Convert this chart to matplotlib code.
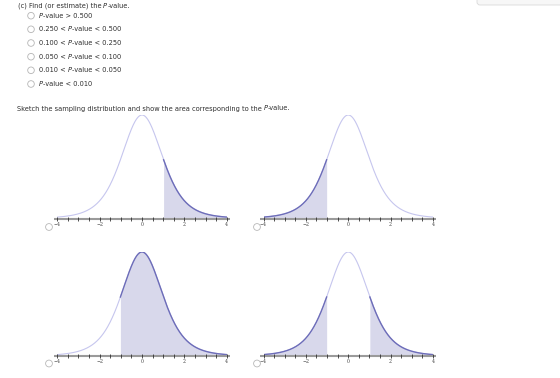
import numpy as np
import matplotlib
matplotlib.use("Agg")
import matplotlib.pyplot as plt
from matplotlib.patches import Circle, FancyBboxPatch
from math import gamma, sqrt, pi

# ---- data ----
title_text = "(c) Find (or estimate) the "
option_labels = [
    ("", "P", "-value > 0.500"),
    ("0.250 < ", "P", "-value < 0.500"),
    ("0.100 < ", "P", "-value < 0.250"),
    ("0.050 < ", "P", "-value < 0.100"),
    ("0.010 < ", "P", "-value < 0.050"),
    ("", "P", "-value < 0.010"),
]
sketch_text = "Sketch the sampling distribution and show the area corresponding to the "
tick_values = [-4, -2, 0, 2, 4]
tick_labels = ["\u22124", "\u22122", "0", "2", "4"]
minor_step = 0.5
t_df = 5
t_cutoff = 1.02
panel_shading = ["right", "left", "above_neg", "two_tailed"]

W, H = 560, 378
fig = plt.figure(figsize=(W / 100, H / 100), dpi=100)

def pdf(x):
    v = t_df
    c = gamma((v + 1) / 2) / (sqrt(v * pi) * gamma(v / 2))
    return c * (1 + x ** 2 / v) ** (-(v + 1) / 2)

# overlay axes in pixel coordinates
ov = fig.add_axes([0, 0, 1, 1])
ov.set_xlim(0, W)
ov.set_ylim(H, 0)
ov.axis("off")

txt_color = "#2e2e2e"
fs = 4.8

def rich(x, y, parts):
    # draw parts sequentially, P italic
    r = fig.canvas.get_renderer()
    cx = x
    for p in parts:
        if not p:
            continue
        style = "italic" if p == "P" else "normal"
        t = ov.text(cx, y, p, fontsize=fs, color=txt_color, va="center", ha="left",
                    family="DejaVu Sans", style=style)
        bb = t.get_window_extent(renderer=r)
        cx += bb.width * W / fig.bbox.width

rich(17.5, 5.8, [title_text, "P", "-value."])

opt_y = [15.7, 29.3, 43.0, 56.7, 70.3, 84.0]
for yy, parts in zip(opt_y, option_labels):
    ov.add_patch(Circle((31, yy), 3.3, fill=False, ec="#b5b5b5", lw=0.6))
    rich(39, yy, list(parts))

rich(17, 108.5, [sketch_text, "P", "-value."])

# top-right box
ov.add_patch(FancyBboxPatch((477, -12), 100, 17, boxstyle="round,pad=0,rounding_size=3",
                            fc="#f7f7f7", ec="#d9d9d9", lw=0.6))

# panels
light = "#c6c6ee"
dark = "#6d6db8"
fill = "#d8d8eb"
panels = [
    (57.3, 226.7, 218.5, 115.0),
    (263.5, 433.0, 218.5, 115.0),
    (57.3, 226.7, 356.0, 252.0),
    (263.5, 433.0, 356.0, 252.0),
]
radio_pos = [(49, 227), (257, 227), (49, 363.5), (257, 363.5)]

x = np.linspace(-4, 4, 801)
y = pdf(x)
for (xl, xr, yb, yt), shade, rp in zip(panels, panel_shading, radio_pos):
    ax = fig.add_axes([xl / W, 1 - yb / H, (xr - xl) / W, (yb - yt) / H])
    ax.set_xlim(-4, 4)
    ax.set_ylim(0, pdf(0))
    ax.axis("off")
    ax.patch.set_alpha(0)
    if shade == "right":
        masks = [x >= t_cutoff]
    elif shade == "left":
        masks = [x <= -t_cutoff]
    elif shade == "above_neg":
        masks = [x >= -t_cutoff]
    else:
        masks = [x <= -t_cutoff, x >= t_cutoff]
    ax.plot(x, y, color=light, lw=0.8, zorder=2)
    for m in masks:
        ax.fill_between(x[m], 0, y[m], color=fill, lw=0, zorder=1)
        ax.plot(x[m], y[m], color=dark, lw=1.0, zorder=3)
    # axis line
    ax.plot([-4.15, 4.15], [0, 0], color="#9a9a9a", lw=1.5, clip_on=False, zorder=4,
            solid_capstyle="butt")
    mt = np.arange(-4, 4 + 1e-9, minor_step)
    ax.plot(mt, np.zeros_like(mt), ls="none", marker="|", ms=2.8, mew=0.6,
            color="#333333", clip_on=False, zorder=5)
    for tv, tl in zip(tick_values, tick_labels):
        ax.annotate(tl, (tv, 0), xytext=(0, -4.3), textcoords="offset points",
                    ha="center", va="center", fontsize=3.4, color="#444444",
                    family="DejaVu Serif", annotation_clip=False)
    ov.add_patch(Circle(rp, 3.4, fill=False, ec="#b8b8b8", lw=0.6))

fig.savefig("out.png", dpi=100)
